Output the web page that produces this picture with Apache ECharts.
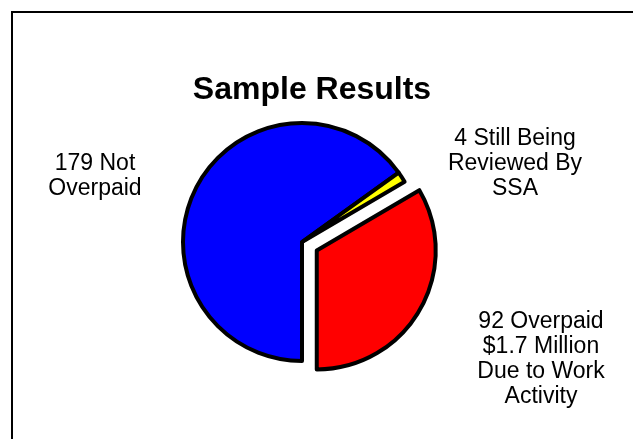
<!DOCTYPE html>
<html>
<head>
<meta charset="utf-8">
<script src="https://cdn.jsdelivr.net/npm/echarts@6/dist/echarts.min.js"></script>
<style>
  html, body { margin: 0; padding: 0; background: #fff; }
  #main { width: 633px; height: 439px; }
</style>
</head>
<body>
<div id="main"></div>
<script>
// 数据
var categories = ['Not Overpaid', 'Still Being Reviewed By SSA', 'Overpaid']
var counts = [179, 4, 92]
var labelTexts = [
    '179 Not\nOverpaid',
    '4 Still Being\nReviewed By\nSSA',
    '92 Overpaid\n$1.7 Million\nDue to Work\nActivity'
]
var colors = ['#0000ff', '#ffff00', '#ff0000']
var explodedIndex = 2

// 标签位置
var labelPos = [[95, 176], [515, 164], [541, 359]]

var chart = echarts.init(document.getElementById('main'))

var pieData = []
for (var i = 0; i < categories.length; i++) {
    pieData.push({
        name: categories[i],
        value: counts[i],
        selected: i == explodedIndex,
        itemStyle: { color: colors[i] }
    })
}

// 文字标签
var graphics = [{
    type: 'rect',
    shape: { x: 12, y: 12, width: 800, height: 600 },
    style: { fill: 'none', stroke: '#000', lineWidth: 2 },
    silent: true
}]
for (var j = 0; j < labelTexts.length; j++) {
    graphics.push({
        type: 'text',
        x: labelPos[j][0],
        y: labelPos[j][1],
        silent: true,
        style: {
            text: labelTexts[j],
            fill: '#000',
            font: '23px "Liberation Sans", Arial, sans-serif',
            lineHeight: 25,
            align: 'center',
            verticalAlign: 'middle'
        }
    })
}

var option = {
    animation: false,
    title: {
        text: 'Sample Results',
        left: 307,
        textAlign: 'center',
        top: 69,
        textStyle: {
            fontFamily: 'Liberation Sans, Arial, sans-serif',
            fontSize: 32,
            fontWeight: 'bold',
            color: '#000'
        }
    },
    graphic: graphics,
    series: [{
        type: 'pie',
        center: [302, 242],
        radius: 119,
        startAngle: -90,
        clockwise: true,
        selectedMode: 'single',
        selectedOffset: 17,
        itemStyle: { borderColor: '#000', borderWidth: 4 },
        emphasis: { disabled: true },
        label: { show: false },
        labelLine: { show: false },
        data: pieData
    }]
}

chart.setOption(option)
</script>
</body>
</html>
